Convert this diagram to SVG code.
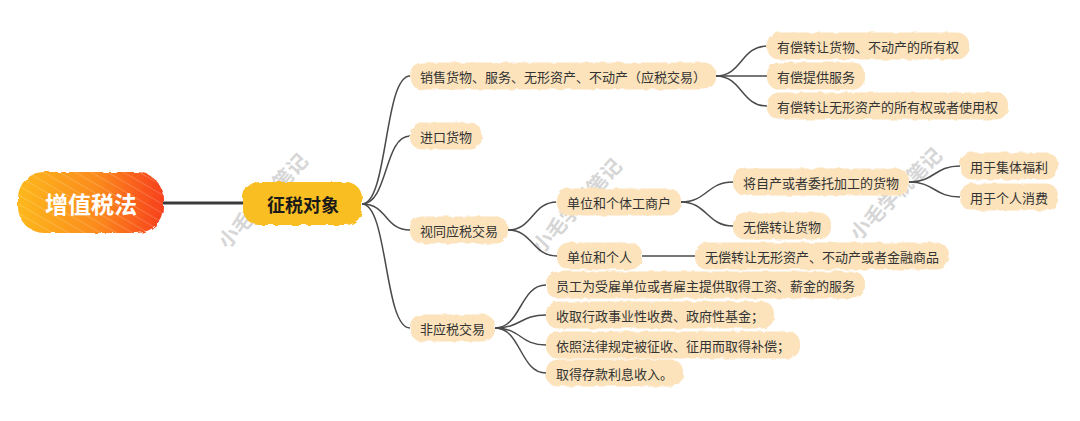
<svg xmlns="http://www.w3.org/2000/svg" width="1080" height="421" viewBox="0 0 1080 421">
<defs>
<style>
.t{font-family:"Noto Sans CJK SC","Noto Sans",sans-serif;font-size:13px;fill:#333;dominant-baseline:central}
.bg{fill:#FCE3BC}
.c{fill:none;stroke:#4a4a4a;stroke-width:1.5}
.wm{font-family:"Noto Sans CJK SC",sans-serif;font-size:20px;font-weight:bold;fill:#d6d6d6;dominant-baseline:central;text-anchor:middle}
</style>
<filter id="rough" x="-5%" y="-20%" width="110%" height="140%">
<feTurbulence type="fractalNoise" baseFrequency="0.12" numOctaves="2" seed="4"/>
<feDisplacementMap in="SourceGraphic" scale="4"/>
</filter>
<linearGradient id="rootg" x1="0" y1="0" x2="1" y2="0">
<stop offset="0" stop-color="#FDB81A"/>
<stop offset="0.55" stop-color="#FB8A1C"/>
<stop offset="1" stop-color="#F7401B"/>
</linearGradient>
<pattern id="hatch" width="8" height="8" patternUnits="userSpaceOnUse" patternTransform="rotate(-60)">
<line x1="0" y1="0" x2="0" y2="8" stroke="#fff" stroke-width="1" stroke-opacity="0.35"/>
</pattern>
</defs>
<rect width="1080" height="421" fill="#ffffff"/>

<g id="watermarks">
<text class="wm" transform="translate(262,200) rotate(-47)">小毛学税笔记</text>
<text class="wm" transform="translate(576,205) rotate(-47)">小毛学税笔记</text>
<text class="wm" transform="translate(895,193) rotate(-45)">小毛学税笔记</text>
</g>

<g id="connectors">
<line x1="163" y1="203" x2="245" y2="203" stroke="#3a3a3a" stroke-width="3"/>
<path class="c" d="M362,204 C388,204 384,76 410,76"/>
<path class="c" d="M362,204 C388,204 384,136 410,136"/>
<path class="c" d="M362,204 C388,204 384,230 410,230"/>
<path class="c" d="M362,204 C388,204 384,328 410,328"/>
<path class="c" d="M716,76 C742,76 741,46 767,46"/>
<path class="c" d="M716,76 L767,76"/>
<path class="c" d="M716,76 C742,76 741,106 767,106"/>
<path class="c" d="M508,230 C533,230 532,202 557,202"/>
<path class="c" d="M508,230 C533,230 532,256 557,256"/>
<path class="c" d="M681,202 C707,202 707,182 733,182"/>
<path class="c" d="M681,202 C707,202 707,226 733,226"/>
<path class="c" d="M909,182 C935,182 934,166 960,166"/>
<path class="c" d="M909,182 C935,182 934,197 960,197"/>
<path class="c" d="M642,256 L695,256"/>
<path class="c" d="M495,328 C521,328 520,285 546,285"/>
<path class="c" d="M495,328 C521,328 520,315 546,315"/>
<path class="c" d="M495,328 C521,328 520,345 546,345"/>
<path class="c" d="M495,328 C521,328 520,373 546,373"/>
</g>

<g id="root">
<rect x="18" y="172" width="145" height="61" rx="26" fill="url(#rootg)" filter="url(#rough)"/>
<rect x="18" y="172" width="145" height="61" rx="26" fill="url(#hatch)"/>
<text x="91" y="203" text-anchor="middle" style="font-family:'Noto Sans CJK SC',sans-serif;font-size:23px;font-weight:bold;fill:#fff;dominant-baseline:central">增值税法</text>
</g>

<g id="n-zsdx">
<rect x="243" y="182" width="119" height="43" rx="16" fill="#F9BF22" filter="url(#rough)"/>
<text x="303" y="204" text-anchor="middle" style="font-family:'Noto Sans CJK SC',sans-serif;font-size:18px;font-weight:bold;fill:#1a1a1a;dominant-baseline:central">征税对象</text>
</g>

<g id="n-a"><rect class="bg" x="410" y="62.5" width="306" height="27" rx="12" filter="url(#rough)"/><text class="t" x="420" y="76">销售货物、服务、无形资产、不动产（应税交易）</text></g>
<g id="n-b"><rect class="bg" x="410" y="122.5" width="72" height="27" rx="12" filter="url(#rough)"/><text class="t" x="420" y="136">进口货物</text></g>
<g id="n-c"><rect class="bg" x="410" y="216.5" width="98" height="27" rx="12" filter="url(#rough)"/><text class="t" x="420" y="230">视同应税交易</text></g>
<g id="n-d"><rect class="bg" x="410" y="314.5" width="85" height="27" rx="12" filter="url(#rough)"/><text class="t" x="420" y="328">非应税交易</text></g>

<g id="n-a1"><rect class="bg" x="767" y="32.5" width="202" height="27" rx="12" filter="url(#rough)"/><text class="t" x="777" y="46">有偿转让货物、不动产的所有权</text></g>
<g id="n-a2"><rect class="bg" x="767" y="62.5" width="98" height="27" rx="12" filter="url(#rough)"/><text class="t" x="777" y="76">有偿提供服务</text></g>
<g id="n-a3"><rect class="bg" x="767" y="92.5" width="241" height="27" rx="12" filter="url(#rough)"/><text class="t" x="777" y="106">有偿转让无形资产的所有权或者使用权</text></g>

<g id="n-c1"><rect class="bg" x="557" y="188.5" width="124" height="27" rx="12" filter="url(#rough)"/><text class="t" x="567" y="202">单位和个体工商户</text></g>
<g id="n-c2"><rect class="bg" x="557" y="242.5" width="85" height="27" rx="12" filter="url(#rough)"/><text class="t" x="567" y="256">单位和个人</text></g>
<g id="n-c1a"><rect class="bg" x="733" y="168.5" width="176" height="27" rx="12" filter="url(#rough)"/><text class="t" x="743" y="182">将自产或者委托加工的货物</text></g>
<g id="n-c1b"><rect class="bg" x="733" y="212.5" width="98" height="27" rx="12" filter="url(#rough)"/><text class="t" x="743" y="226">无偿转让货物</text></g>
<g id="n-c1a1"><rect class="bg" x="960" y="152.5" width="98" height="27" rx="12" filter="url(#rough)"/><text class="t" x="970" y="166">用于集体福利</text></g>
<g id="n-c1a2"><rect class="bg" x="960" y="183.5" width="98" height="27" rx="12" filter="url(#rough)"/><text class="t" x="970" y="197">用于个人消费</text></g>
<g id="n-c2a"><rect class="bg" x="695" y="242.5" width="254" height="27" rx="12" filter="url(#rough)"/><text class="t" x="705" y="256">无偿转让无形资产、不动产或者金融商品</text></g>

<g id="n-d1"><rect class="bg" x="546" y="271.5" width="319" height="27" rx="12" filter="url(#rough)"/><text class="t" x="556" y="285">员工为受雇单位或者雇主提供取得工资、薪金的服务</text></g>
<g id="n-d2"><rect class="bg" x="546" y="301.5" width="228" height="27" rx="12" filter="url(#rough)"/><text class="t" x="556" y="315">收取行政事业性收费、政府性基金；</text></g>
<g id="n-d3"><rect class="bg" x="546" y="331.5" width="254" height="27" rx="12" filter="url(#rough)"/><text class="t" x="556" y="345">依照法律规定被征收、征用而取得补偿；</text></g>
<g id="n-d4"><rect class="bg" x="546" y="359.5" width="137" height="27" rx="12" filter="url(#rough)"/><text class="t" x="556" y="373">取得存款利息收入。</text></g>
</svg>
